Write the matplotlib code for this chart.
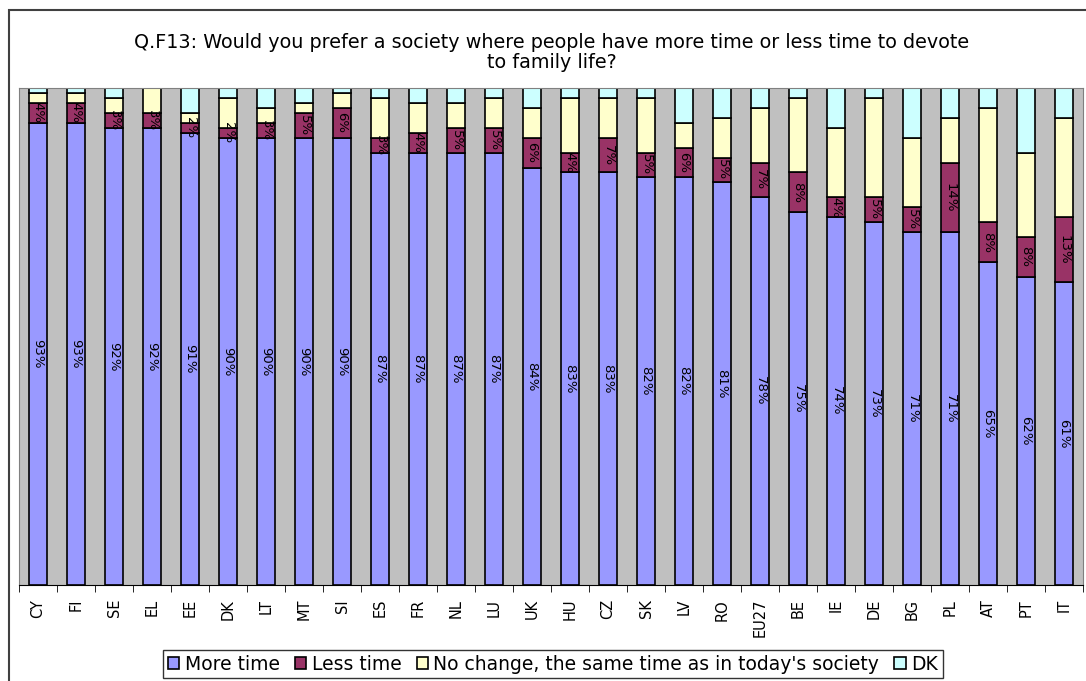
import numpy as np
from matplotlib import pyplot as plt
from matplotlib.patches import Rectangle

plt.rcParams['font.family'] = 'DejaVu Sans'

kraje = ['CY', 'FI', 'SE', 'EL', 'EE', 'DK', 'LT', 'MT', 'SI', 'ES', 'FR', 'NL', 'LU', 'UK',
         'HU', 'CZ', 'SK', 'LV', 'RO', 'EU27', 'BE', 'IE', 'DE', 'BG', 'PL', 'AT', 'PT', 'IT']
more_time = [93, 93, 92, 92, 91, 90, 90, 90, 90, 87, 87, 87, 87, 84,
             83, 83, 82, 82, 81, 78, 75, 74, 73, 71, 71, 65, 62, 61]
less_time = [4, 4, 3, 3, 2, 2, 3, 5, 6, 3, 4, 5, 5, 6,
             4, 7, 5, 6, 5, 7, 8, 4, 5, 5, 14, 8, 8, 13]
no_change = [2, 2, 3, 5, 2, 6, 3, 2, 3, 8, 6, 5, 6, 6,
             11, 8, 11, 5, 8, 11, 15, 14, 20, 14, 9, 23, 17, 20]
dk = [1, 1, 2, 0, 5, 2, 4, 3, 1, 2, 3, 3, 2, 4,
      2, 2, 2, 7, 6, 4, 2, 8, 2, 10, 6, 4, 13, 6]

serie = [
    ("More time", more_time, '#9999FF'),
    ("Less time", less_time, '#993366'),
    ("No change, the same time as in today's society", no_change, '#FFFFCC'),
    ("DK", dk, '#CCFFFF'),
]

fig = plt.figure(figsize=(10.86, 6.81), dpi=100)
W, H = 1086, 681
ax = fig.add_axes([19 / W, 1 - 585 / H, (1083 - 19) / W, (585 - 88) / H])
ax.set_facecolor('#C0C0C0')

x = np.arange(len(kraje))
dol = np.zeros(len(kraje))
for i, (nazwa, wartosci, kolor) in enumerate(serie):
    w = np.array(wartosci, dtype=float)
    ax.bar(x, w, bottom=dol, width=0.45, color=kolor, edgecolor='black',
           linewidth=1.2, label=nazwa)
    # etykiety tylko dla dwóch pierwszych serii
    if i < 2:
        for xi, b, v in zip(x, dol, w):
            ax.text(xi, b + v / 2, f"{int(v)}%", rotation=270, ha='center',
                    va='center', fontsize=9.5, color='black')
    dol += w

ax.set_xlim(-0.5, len(kraje) - 0.5)
ax.set_ylim(0, 100)
ax.set_yticks([])
ax.set_xticks(x)
ax.set_xticklabels(kraje, rotation=90, fontsize=10.5)
ax.tick_params(axis='x', which='major', length=0, pad=10)
ax.set_xticks(np.arange(-0.5, len(kraje)), minor=True)
ax.tick_params(axis='x', which='minor', length=5, color='black')
for s in ['top', 'right', 'left']:
    ax.spines[s].set_color('#808080')
ax.spines['bottom'].set_color('black')

fig.text(552 / W, 1 - 42 / H, "Q.F13: Would you prefer a society where people have more time or less time to devote",
         ha='center', va='center', fontsize=13.8)
fig.text(552 / W, 1 - 63 / H, "to family life?", ha='center', va='center', fontsize=13.8)

leg = fig.legend(loc='center', bbox_to_anchor=(553 / W, 1 - 664 / H), ncol=4,
                 fontsize=13.5, frameon=True, fancybox=False, handlelength=0.6,
                 handleheight=0.6, handletextpad=0.3, columnspacing=0.8,
                 borderpad=0.25, borderaxespad=0)
leg.get_frame().set_edgecolor('black')
leg.get_frame().set_linewidth(1)

fig.patches.append(Rectangle((9 / W, -0.1), 1.2, 1 - 10 / H + 0.1, transform=fig.transFigure,
                             fill=False, edgecolor='#404040', linewidth=1.5))

plt.savefig('out.png')
